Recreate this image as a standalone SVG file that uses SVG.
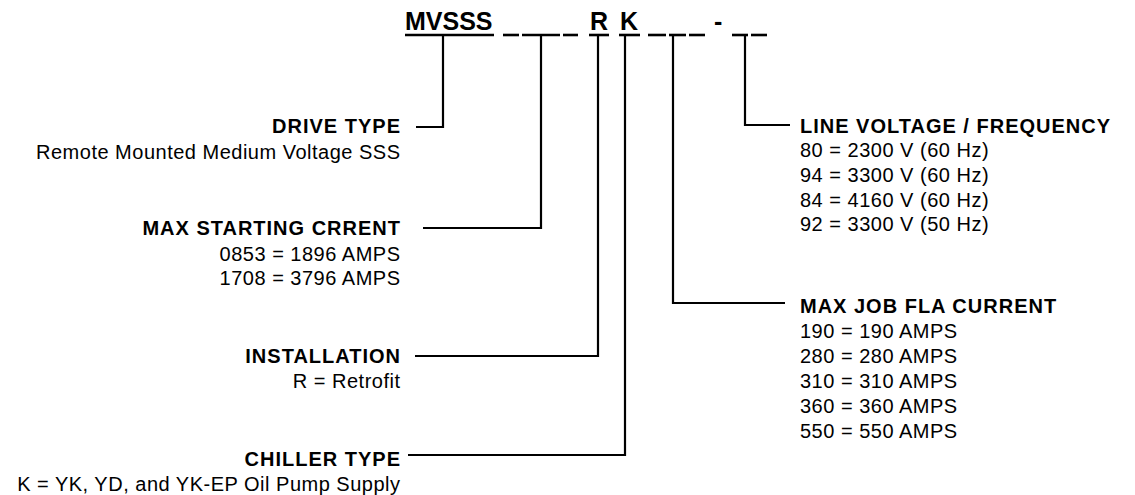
<svg xmlns="http://www.w3.org/2000/svg" width="1135" height="495" viewBox="0 0 1135 495">
<style>
.t{font-family:"Liberation Sans",Arial,sans-serif;font-weight:bold;font-size:25px;fill:#000}
.h{font-family:"Liberation Sans",Arial,sans-serif;font-weight:bold;font-size:20px;letter-spacing:1px;fill:#000}
.r{font-family:"Liberation Sans",Arial,sans-serif;font-size:20px;letter-spacing:0.5px;fill:#000}
.e{text-anchor:end}
.c{fill:none;stroke:#000;stroke-width:2.2}
.d{stroke:#000;stroke-width:2.6}
</style>
<rect width="1135" height="495" fill="#fff"/>
<g id="code">
<text class="t" x="405" y="30">MVSSS</text>
<line class="d" x1="405" y1="35" x2="494" y2="35"/>
<line class="d" x1="503" y1="35" x2="519" y2="35"/>
<line class="d" x1="522" y1="35" x2="560" y2="35"/>
<line class="d" x1="563" y1="35" x2="578" y2="35"/>
<text class="t" x="590" y="30">R</text>
<line class="d" x1="589" y1="35" x2="609" y2="35"/>
<text class="t" x="620" y="30">K</text>
<line class="d" x1="619" y1="35" x2="640" y2="35"/>
<line class="d" x1="648" y1="35" x2="666" y2="35"/>
<line class="d" x1="669" y1="35" x2="686" y2="35"/>
<line class="d" x1="689" y1="35" x2="705" y2="35"/>
<text class="t" x="714" y="30">-</text>
<line class="d" x1="732" y1="35" x2="748" y2="35"/>
<line class="d" x1="751" y1="35" x2="767" y2="35"/>
</g>
<g id="connectors">
<polyline class="c" points="443,35 443,127 416,127"/>
<polyline class="c" points="541,35 541,228 423,228"/>
<polyline class="c" points="598,35 598,356 415,356"/>
<polyline class="c" points="625,35 625,455 408,455"/>
<polyline class="c" points="673,35 673,303 785,303"/>
<polyline class="c" points="745,35 745,125 790,125"/>
</g>
<g id="drive-type">
<text class="h e" x="401" y="133">DRIVE TYPE</text>
<text class="r e" x="400.5" y="159">Remote Mounted Medium Voltage SSS</text>
</g>
<g id="max-starting-current">
<text class="h e" x="401" y="234.5">MAX STARTING CRRENT</text>
<text class="r e" x="400.5" y="260.5">0853 = 1896 AMPS</text>
<text class="r e" x="400.5" y="285">1708 = 3796 AMPS</text>
</g>
<g id="installation">
<text class="h e" x="401" y="362.5">INSTALLATION</text>
<text class="r e" x="400.5" y="388">R = Retrofit</text>
</g>
<g id="chiller-type">
<text class="h e" x="401" y="466">CHILLER TYPE</text>
<text class="r e" x="400.5" y="491">K = YK, YD, and YK-EP Oil Pump Supply</text>
</g>
<g id="line-voltage">
<text class="h" x="800" y="132.5">LINE VOLTAGE / FREQUENCY</text>
<text class="r" x="800" y="157">80 = 2300 V (60 Hz)</text>
<text class="r" x="800" y="182">94 = 3300 V (60 Hz)</text>
<text class="r" x="800" y="206.5">84 = 4160 V (60 Hz)</text>
<text class="r" x="800" y="231">92 = 3300 V (50 Hz)</text>
</g>
<g id="max-job-fla">
<text class="h" x="800" y="312.5">MAX JOB FLA CURRENT</text>
<text class="r" x="800" y="338">190 = 190 AMPS</text>
<text class="r" x="800" y="363">280 = 280 AMPS</text>
<text class="r" x="800" y="388">310 = 310 AMPS</text>
<text class="r" x="800" y="413">360 = 360 AMPS</text>
<text class="r" x="800" y="438">550 = 550 AMPS</text>
</g>
</svg>
